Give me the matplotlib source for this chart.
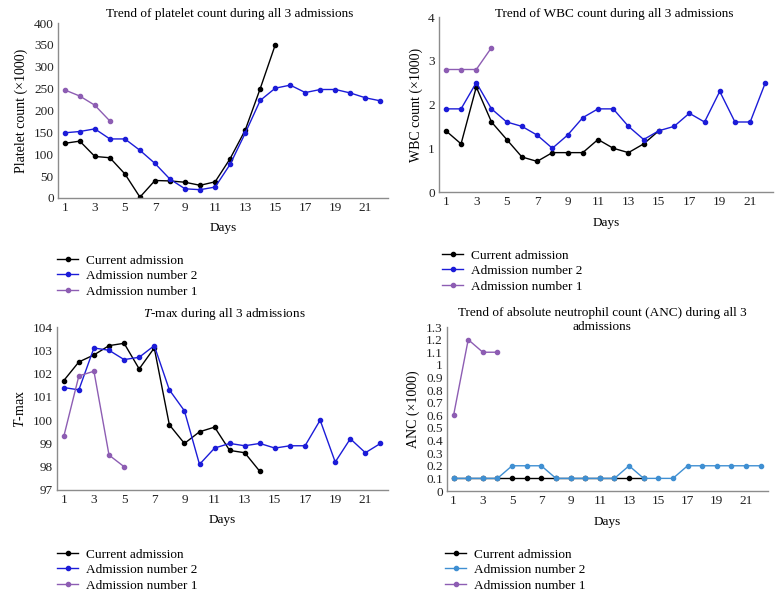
import numpy as np
import matplotlib
matplotlib.use("Agg")
import matplotlib.pyplot as plt

plt.rcParams['font.family'] = ['Liberation Serif', 'DejaVu Serif']
plt.rcParams['mathtext.fontset'] = 'custom'
plt.rcParams['mathtext.it'] = 'Liberation Serif:italic'
plt.rcParams['mathtext.rm'] = 'Liberation Serif'

# platelet count (x1000)
plt_current = [125, 130, 95, 92, 55, 2, 40, 39, 36, 29, 37, 90, 155, 250, 350]
plt_adm2 = [149, 152, 158, 135, 135, 109, 79, 43, 21, 19, 25, 77, 148, 223, 251,
            258, 241, 248, 248, 240, 229, 222]
plt_adm1 = [247, 233, 212, 176]

# WBC count (x1000)
wbc_current = [1.4, 1.1, 2.4, 1.6, 1.2, 0.8, 0.7, 0.9, 0.9, 0.9, 1.2, 1.0, 0.9, 1.1, 1.4]
wbc_adm2 = [1.9, 1.9, 2.5, 1.9, 1.6, 1.5, 1.3, 1.0, 1.3, 1.7, 1.9, 1.9, 1.5, 1.2, 1.4,
            1.5, 1.8, 1.6, 2.3, 1.6, 1.6, 2.5]
wbc_adm1 = [2.8, 2.8, 2.8, 3.3]

# T-max
tmax_current = [101.7, 102.5, 102.8, 103.2, 103.3, 102.2, 103.1, 99.8, 99.0, 99.5,
                99.7, 98.7, 98.6, 97.8]
tmax_adm2 = [101.4, 101.3, 103.1, 103.0, 102.6, 102.7, 103.2, 101.3, 100.4, 98.1,
             98.8, 99.0, 98.9, 99.0, 98.8, 98.9, 98.9, 100.0, 98.2, 99.2, 98.6, 99.0]
tmax_adm1 = [99.3, 101.9, 102.1, 98.5, 98.0]

# ANC (x1000)
anc_current = [0.1] * 14
anc_adm2 = [0.1, 0.1, 0.1, 0.1, 0.2, 0.2, 0.2, 0.1, 0.1, 0.1, 0.1, 0.1, 0.2, 0.1,
            0.1, 0.1, 0.2, 0.2, 0.2, 0.2, 0.2, 0.2]
anc_adm1 = [0.6, 1.2, 1.1, 1.1]

labels = ["Current admission", "Admission number 2", "Admission number 1"]
day_ticks = list(range(1, 22, 2))

fig = plt.figure(figsize=(7.78, 5.97), dpi=100)


def panel(rect, series, colors, yticks, ylabel, title, title_xy, leg_xy, ylim):
    ax = fig.add_axes(rect)
    for vals, c, lab in zip(series, colors, labels):
        days = np.arange(1, len(vals) + 1)
        ax.plot(days, vals, color=c, lw=1, marker='o', ms=3, label=lab)
    ax.set_xlim(0.55, 22.5)
    ax.set_ylim(*ylim)
    ax.set_xticks(day_ticks)
    ax.set_yticks(yticks)
    ax.set_yticklabels([f"{v:g}" for v in yticks])
    ax.tick_params(length=0, labelsize=9.5, pad=3, colors='#222222')
    for s in ['top', 'right']:
        ax.spines[s].set_visible(False)
    for s in ['left', 'bottom']:
        ax.spines[s].set_color('#8c8c8c')
        ax.spines[s].set_linewidth(1)
    ax.set_xlabel("Days", fontsize=9.5, labelpad=6)
    ax.set_ylabel(ylabel, fontsize=10, labelpad=4)
    fig.text(title_xy[0] / 778, 1 - title_xy[1] / 597, title, ha='center', va='center',
             fontsize=9.5, linespacing=1.3)
    ax.legend(loc='upper left', bbox_to_anchor=(leg_xy[0] / 778, 1 - leg_xy[1] / 597),
              bbox_transform=fig.transFigure, frameon=False, fontsize=9.5,
              handlelength=1.6, handletextpad=0.6, labelspacing=0.25, borderaxespad=0)
    return ax


panel([58 / 778, 1 - 198 / 597, 330 / 778, 175 / 597],
      [plt_current, plt_adm2, plt_adm1], ['black', '#1c1cd8', '#8d5db3'],
      list(range(0, 401, 50)), "Platelet count (×1000)",
      "Trend of platelet count during all 3 admissions", (230, 14), (52, 249), (0, 400))

panel([439 / 778, 1 - 192 / 597, 334 / 778, 175 / 597],
      [wbc_current, wbc_adm2, wbc_adm1], ['black', '#1c1cd8', '#8d5db3'],
      [0, 1, 2, 3, 4], "WBC count (×1000)",
      "Trend of WBC count during all 3 admissions", (614, 14), (437, 244), (0, 4))

panel([57 / 778, 1 - 490 / 597, 331 / 778, 163 / 597],
      [tmax_current, tmax_adm2, tmax_adm1], ['black', '#1c1cd8', '#8d5db3'],
      list(range(97, 105)), "$T$-max",
      "$T$-max during all 3 admissions", (224, 314), (52, 543), (97, 104))

panel([447 / 778, 1 - 491 / 597, 321 / 778, 164 / 597],
      [anc_current, anc_adm2, anc_adm1], ['black', '#3f8fd2', '#8d5db3'],
      [round(v * 0.1, 1) for v in range(0, 14)], "ANC (×1000)",
      "Trend of absolute neutrophil count (ANC) during all 3\nadmissions", (602, 320),
      (440, 543), (0, 1.3))

fig.savefig("out.png", dpi=100)
